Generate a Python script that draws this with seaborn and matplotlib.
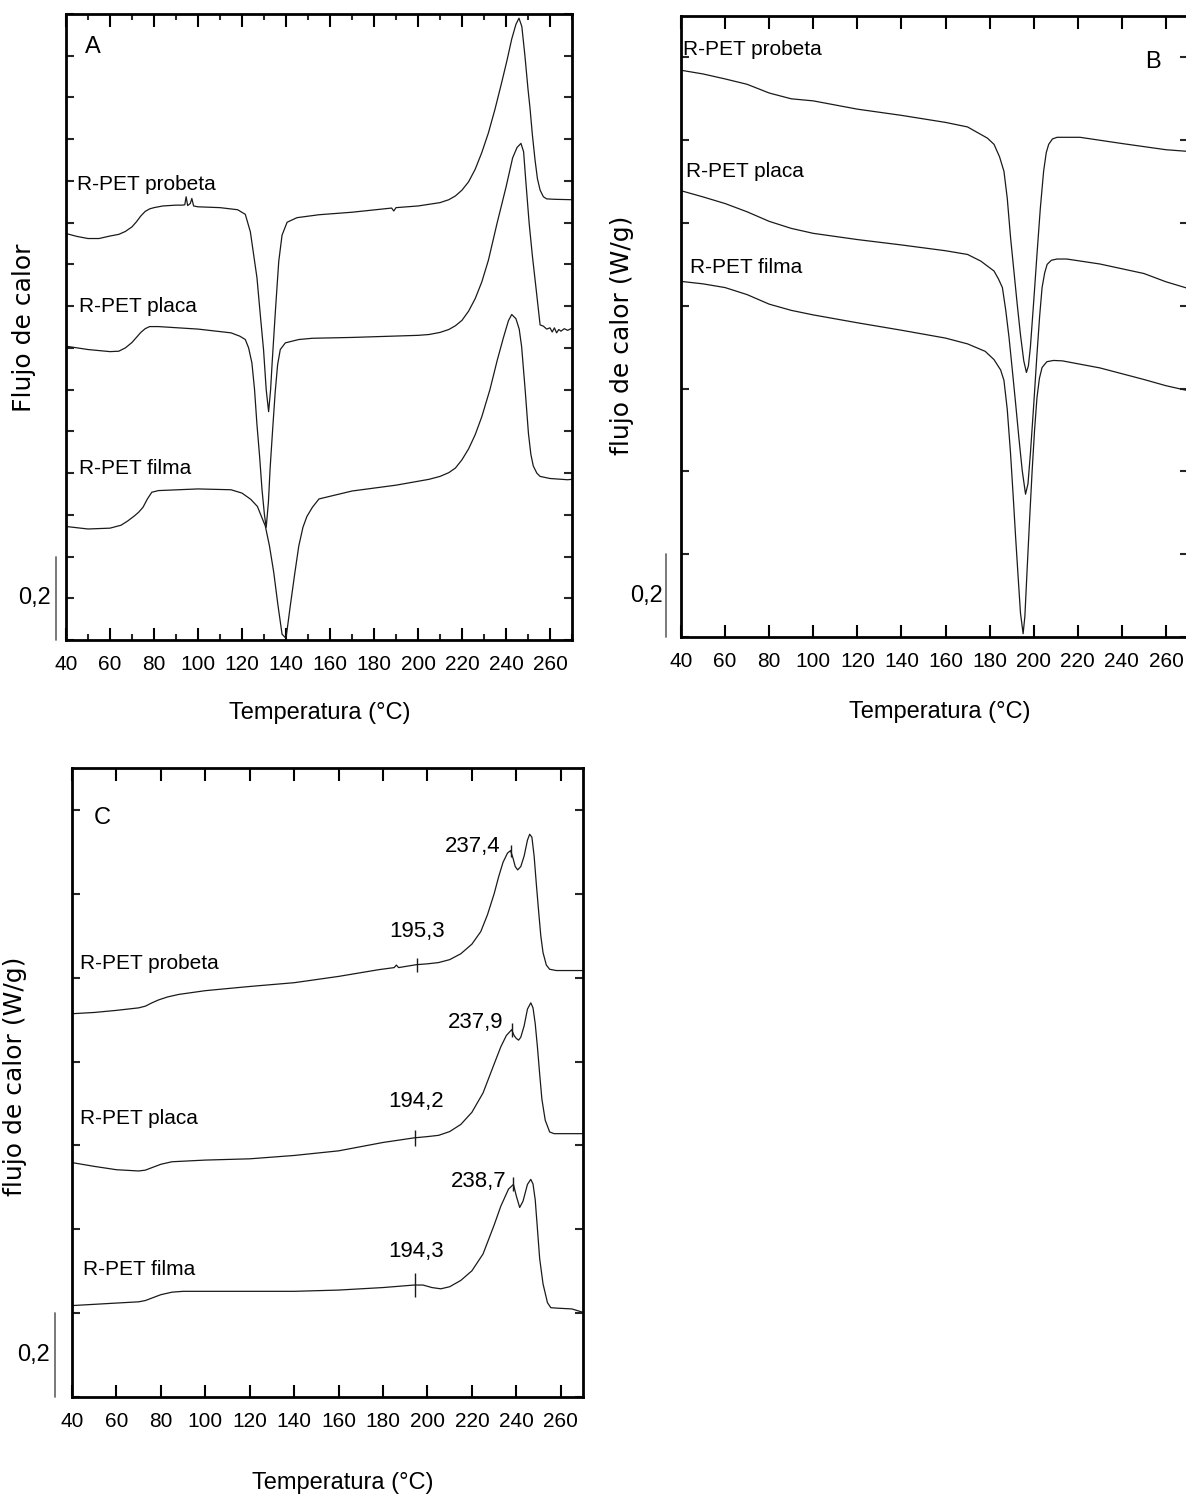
import numpy as np
import pandas as pd
import matplotlib
matplotlib.use("Agg")
import matplotlib.pyplot as plt
import matplotlib.transforms as mtransforms
from matplotlib.ticker import MultipleLocator, NullFormatter
import seaborn as sns

# ---------------- DATA ----------------
# Panel A (heating scan 1)
a_probeta_T = [40, 45, 50, 55, 60, 64, 67, 70, 72, 74, 76, 78, 80, 84, 90, 93, 94, 94.6, 95.3, 96.5,
               97.2, 98, 100, 110, 118, 121.5, 123.8, 125.3, 126.8, 128.3, 129.8, 131, 132.1, 133,
               133.7, 135.2, 136.7, 138.2, 140.5, 145, 155, 170, 188, 189, 190, 200, 205, 210, 214,
               217, 220, 223, 226, 229, 232, 235, 238, 240.5, 242.6, 244.5, 245.9, 247.2, 248.6,
               250, 250.9, 252, 253.2, 254.3, 255.5, 257, 258.5, 262, 270]
a_probeta_y = [0.974, 0.967, 0.962, 0.962, 0.968, 0.972, 0.979, 0.990, 1.002, 1.016, 1.027, 1.033,
               1.036, 1.040, 1.042, 1.042, 1.043, 1.062, 1.041, 1.046, 1.058, 1.040, 1.038, 1.036,
               1.031, 1.020, 0.978, 0.923, 0.868, 0.780, 0.695, 0.600, 0.547, 0.600, 0.664, 0.790,
               0.907, 0.970, 1.001, 1.012, 1.019, 1.025, 1.035, 1.028, 1.036, 1.040, 1.044, 1.048,
               1.055, 1.064, 1.078, 1.098, 1.128, 1.168, 1.215, 1.272, 1.335, 1.390, 1.440, 1.475,
               1.490, 1.470, 1.400, 1.320, 1.275, 1.210, 1.150, 1.105, 1.078, 1.062, 1.057, 1.056,
               1.055]

a_placa_T = [40, 50, 60, 64, 67, 70, 72, 74, 76, 78, 82, 100, 115, 119, 121.5, 123, 124.5, 125.7,
             126.8, 128, 129.1, 130.2, 131, 132, 132.8, 134, 135.1, 136.2, 137.4, 139.7, 145.8,
             152, 170, 200, 205, 210, 214, 217, 220, 223, 226, 229, 232, 236, 240, 243, 245,
             246.8, 248, 249, 250.5, 252, 253.5, 255.5, 257, 258.5, 260, 261, 262, 263, 264, 265,
             266.5, 268, 270]
a_placa_y = [0.704, 0.696, 0.691, 0.692, 0.700, 0.713, 0.725, 0.737, 0.746, 0.751, 0.751, 0.745,
             0.736, 0.728, 0.720, 0.700, 0.664, 0.600, 0.516, 0.440, 0.360, 0.300, 0.270, 0.330,
             0.413, 0.510, 0.595, 0.660, 0.696, 0.712, 0.720, 0.723, 0.725, 0.730, 0.732, 0.737,
             0.744, 0.753, 0.766, 0.788, 0.818, 0.858, 0.910, 1.000, 1.085, 1.155, 1.180, 1.190,
             1.170, 1.100, 1.000, 0.920, 0.850, 0.755, 0.752, 0.745, 0.748, 0.738, 0.748, 0.736,
             0.744, 0.740, 0.746, 0.742, 0.747]

a_filma_T = [40, 50, 60, 65, 68, 71, 73, 75, 77, 79, 82, 100, 115, 120, 124, 127, 130.6, 132.5,
             134.4, 136.3, 138.2, 140, 142, 144, 145.8, 147.7, 149.5, 152, 155, 170, 190, 205, 210,
             214, 217, 220, 223, 226, 229, 232.7, 236, 238.8, 241.1, 242.6, 244.5, 246, 247.1,
             248.7, 250.2, 251.3, 252.4, 254, 255.5, 260, 268, 270]
a_filma_y = [0.272, 0.266, 0.268, 0.275, 0.285, 0.297, 0.306, 0.318, 0.338, 0.354, 0.358, 0.362,
             0.360, 0.352, 0.337, 0.320, 0.273, 0.225, 0.163, 0.085, 0.014, 0.004, 0.084, 0.160,
             0.225, 0.270, 0.296, 0.318, 0.338, 0.357, 0.371, 0.385, 0.392, 0.401, 0.412, 0.432,
             0.458, 0.492, 0.535, 0.600, 0.670, 0.724, 0.765, 0.780, 0.770, 0.745, 0.703, 0.600,
             0.495, 0.445, 0.417, 0.400, 0.392, 0.387, 0.384, 0.385]

# Panel B (cooling scan)
b_probeta_T = [40, 50, 60, 70, 80, 90, 100, 120, 140, 160, 170, 176, 179, 182, 184.5, 186.5, 188,
               189.5, 191, 192.5, 194, 195.5, 196.7, 197.6, 198.5, 200, 201.5, 203, 204.5, 205.7,
               206.8, 208.5, 210.6, 221, 240, 260, 270]
b_probeta_y = [1.369, 1.360, 1.348, 1.335, 1.314, 1.300, 1.295, 1.275, 1.260, 1.243, 1.232, 1.214,
               1.205, 1.190, 1.160, 1.125, 1.060, 0.965, 0.885, 0.805, 0.730, 0.667, 0.639, 0.655,
               0.700, 0.810, 0.925, 1.035, 1.125, 1.170, 1.190, 1.203, 1.207, 1.207, 1.192, 1.177,
               1.173]

b_placa_T = [40, 50, 60, 70, 80, 90, 100, 120, 140, 160, 170, 176, 182, 184, 185.8, 187.3, 188.8,
             190.3, 191.8, 193.3, 194.8, 196.3, 197.4, 198.5, 200, 201.5, 202.7, 203.8, 205, 206.1,
             208, 210.6, 215, 230, 250, 260, 270]
b_placa_y = [1.078, 1.063, 1.047, 1.027, 1.004, 0.987, 0.975, 0.960, 0.947, 0.933, 0.924, 0.908,
             0.884, 0.865, 0.844, 0.790, 0.724, 0.645, 0.564, 0.480, 0.402, 0.345, 0.370, 0.443,
             0.560, 0.684, 0.775, 0.844, 0.880, 0.900, 0.910, 0.913, 0.913, 0.901, 0.878, 0.858,
             0.842]

b_filma_T = [40, 50, 60, 70, 80, 90, 100, 120, 140, 160, 170, 178, 182, 185, 186.5, 188, 189.5,
             190.7, 191.8, 193, 194, 195.2, 196, 197, 198.2, 199.3, 200.4, 201.5, 202.6, 203.8, 206,
             209, 213, 230, 250, 260, 270]
b_filma_y = [0.859, 0.853, 0.844, 0.827, 0.804, 0.789, 0.778, 0.759, 0.741, 0.722, 0.708, 0.690,
             0.670, 0.645, 0.620, 0.550, 0.443, 0.340, 0.241, 0.140, 0.058, 0.008, 0.050, 0.161,
             0.290, 0.402, 0.500, 0.579, 0.625, 0.651, 0.665, 0.668, 0.667, 0.650, 0.622, 0.607,
             0.595]

# Panel C (heating scan 2)
c_probeta_T = [40, 50, 60, 70, 73, 76, 79, 83, 88, 100, 120, 140, 160, 178, 185, 186, 187, 195,
               200, 205, 210, 215, 220, 224, 227, 230, 232, 234, 236, 237.4, 238.5, 239.5, 240.6,
               242, 243.5, 245, 246, 247, 248, 249, 250, 251, 252, 253.5, 255, 258, 270]
c_probeta_y = [0.914, 0.917, 0.922, 0.928, 0.932, 0.940, 0.947, 0.954, 0.960, 0.969, 0.979, 0.988,
               1.003, 1.019, 1.024, 1.030, 1.024, 1.031, 1.033, 1.036, 1.043, 1.057, 1.080, 1.110,
               1.150, 1.200, 1.240, 1.275, 1.297, 1.303, 1.285, 1.265, 1.257, 1.265, 1.290, 1.328,
               1.342, 1.335, 1.290, 1.223, 1.160, 1.100, 1.060, 1.030, 1.020, 1.017, 1.017]

c_placa_T = [40, 50, 60, 70, 73, 76, 80, 85, 100, 120, 140, 160, 180, 194, 200, 205, 210, 215, 220,
             225, 230, 233, 235.5, 237.9, 239, 240, 241, 242, 243.5, 245, 246.5, 247.5, 248.5,
             249.5, 250.5, 251.5, 253, 255, 257, 270]
c_placa_y = [0.559, 0.550, 0.542, 0.539, 0.541, 0.547, 0.555, 0.561, 0.565, 0.568, 0.576, 0.587,
             0.607, 0.618, 0.621, 0.624, 0.633, 0.650, 0.679, 0.725, 0.794, 0.835, 0.862, 0.876,
             0.862, 0.855, 0.851, 0.858, 0.885, 0.925, 0.940, 0.928, 0.890, 0.834, 0.770, 0.710,
             0.660, 0.632, 0.628, 0.628]

c_filma_T = [40, 50, 60, 70, 73, 76, 80, 85, 90, 140, 160, 180, 194, 198, 202, 206, 210, 215, 220,
             225, 230, 233, 236.5, 238.7, 240, 241.5, 243, 245, 246.5, 247.5, 248.5, 249.5, 250.5,
             252, 254, 255.5, 258, 265, 270]
c_filma_y = [0.218, 0.221, 0.224, 0.227, 0.230, 0.236, 0.244, 0.250, 0.252, 0.252, 0.255, 0.261,
             0.267, 0.267, 0.261, 0.258, 0.263, 0.278, 0.301, 0.341, 0.410, 0.455, 0.496, 0.507,
             0.479, 0.452, 0.467, 0.507, 0.519, 0.508, 0.470, 0.400, 0.330, 0.270, 0.225, 0.213,
             0.212, 0.210, 0.202]

series_names = ["R-PET probeta", "R-PET placa", "R-PET filma"]

# Annotated temperatures in panel C (series index, temperature)
c_mark_series = [0, 0, 1, 1, 2, 2]
c_mark_T = [195.3, 237.4, 194.2, 237.9, 194.3, 238.7]

x_ticks_labels = [40, 60, 80, 100, 120, 140, 160, 180, 200, 220, 240, 260]
SCALE_BAR = 0.2
SCALE_LABEL = "0,2"

# ---------------- STYLE ----------------
sns.set_theme(style="ticks")
NARROW = ["Liberation Sans Narrow", "Liberation Sans", "DejaVu Sans"]
plt.rcParams["font.family"] = NARROW
plt.rcParams["axes.linewidth"] = 2.0
plt.rcParams["axes.edgecolor"] = "black"

W, H = 1186, 1502
fig = plt.figure(figsize=(W / 100, H / 100), dpi=100)


def px_axes(left, top, right, bottom):
    return fig.add_axes([left / W, 1 - bottom / H, (right - left) / W, (bottom - top) / H])


axA = px_axes(66, 14, 572, 640)
axB = px_axes(681, 16, 1188, 637)
axC = px_axes(72, 768, 583, 1397)


def style_axes(ax, ystep, xminor):
    ax.set_xlim(40, 270)
    ax.set_ylim(0, 1.5)
    ax.xaxis.set_major_locator(MultipleLocator(20))
    if xminor:
        ax.xaxis.set_minor_locator(MultipleLocator(10))
    ax.yaxis.set_major_locator(MultipleLocator(ystep))
    ax.yaxis.set_major_formatter(NullFormatter())
    ax.set_xticks(x_ticks_labels)
    ax.set_xticklabels([str(v) for v in x_ticks_labels])
    ax.tick_params(axis="x", which="major", direction="in", length=9, width=1.5,
                   top=True, bottom=True, labelsize=15, pad=11, colors="black")
    ax.tick_params(axis="x", which="minor", direction="in", length=4.5, width=1.5,
                   top=True, bottom=True)
    ax.tick_params(axis="y", which="major", direction="in", length=5.5, width=1.5,
                   left=True, right=True)
    for s in ax.spines.values():
        s.set_visible(True)
        s.set_linewidth(2.0)
        s.set_color("black")
    ax.set_xlabel("")
    ax.set_ylabel("")
    ax.set_facecolor("white")


def draw_curves(ax, Ts, Ys):
    for T, Y, name in zip(Ts, Ys, series_names):
        df = pd.DataFrame({"Temperatura": T, "Flujo": Y})
        sns.lineplot(data=df, x="Temperatura", y="Flujo", ax=ax, color="#1a1a1a",
                     linewidth=0.9, estimator=None, sort=False, legend=False)


def scale_bar(ax, xfrac, label_xfrac):
    trans = mtransforms.blended_transform_factory(ax.transAxes, ax.transData)
    ax.plot([xfrac, xfrac], [0, SCALE_BAR], transform=trans, clip_on=False,
            color="#6e6e6e", lw=1.3)
    ax.text(label_xfrac, SCALE_BAR / 2, SCALE_LABEL, transform=trans, ha="center",
            va="center", fontsize=17, color="black")


# Panel A
draw_curves(axA, [a_probeta_T, a_placa_T, a_filma_T], [a_probeta_y, a_placa_y, a_filma_y])
style_axes(axA, 0.1, True)
scale_bar(axA, -0.02, -0.062)
for (tx, ty), name in zip([(45, 1.091), (45.9, 0.799), (45.9, 0.412)], series_names):
    axA.text(tx, ty, name, fontsize=15, ha="left", va="center", color="black")
axA.text(52.3, 1.42, "A", fontsize=17, ha="center", va="center", color="black")

# Panel B
draw_curves(axB, [b_probeta_T, b_placa_T, b_filma_T], [b_probeta_y, b_placa_y, b_filma_y])
style_axes(axB, 0.2, False)
scale_bar(axB, -0.03, -0.069)
for (tx, ty), name in zip([(40.9, 1.419), (42.3, 1.125), (44.1, 0.892)], series_names):
    axB.text(tx, ty, name, fontsize=15, ha="left", va="center", color="black", clip_on=False)
axB.text(254.1, 1.39, "B", fontsize=17, ha="center", va="center", color="black")

# Panel C
c_T = [c_probeta_T, c_placa_T, c_filma_T]
c_Y = [c_probeta_y, c_placa_y, c_filma_y]
draw_curves(axC, c_T, c_Y)
style_axes(axC, 0.2, False)
scale_bar(axC, -0.033, -0.076)
for (tx, ty), name in zip([(43.6, 1.033), (43.6, 0.663), (45.0, 0.304)], series_names):
    axC.text(tx, ty, name, fontsize=15, ha="left", va="center", color="black")
axC.text(53.5, 1.38, "C", fontsize=17, ha="center", va="center", color="black")

# annotations (marks + values) in panel C
mark_sizes = [10, 8, 11, 10, 17, 10]
text_offsets = [(0, 24), (-7, 3), (1, 26), (-6, 5), (1, 24), (-5, 2)]
text_ha = ["center", "right", "center", "right", "center", "right"]
for si, tm, ms, off, ha in zip(c_mark_series, c_mark_T, mark_sizes, text_offsets, text_ha):
    ym = float(np.interp(tm, c_T[si], c_Y[si]))
    axC.plot([tm], [ym], marker="|", markersize=ms, markeredgewidth=1.0, color="#1a1a1a")
    axC.annotate(f"{tm:.1f}".replace(".", ","), xy=(tm, ym), xytext=off,
                 textcoords="offset points", ha=ha, va="center", fontsize=16, color="black")

# axis titles
YFONT = ["DejaVu Sans"]
fig.text(24 / W, 1 - 328 / H, "Flujo de calor", rotation=90, ha="center", va="center",
         fontsize=18, family=YFONT, color="black")
fig.text(622 / W, 1 - 335 / H, "flujo de calor (W/g)", rotation=90, ha="center", va="center",
         fontsize=18, family=YFONT, color="black")
fig.text(15 / W, 1 - 1076 / H, "flujo de calor (W/g)", rotation=90, ha="center", va="center",
         fontsize=18, family=YFONT, color="black")
for cx, cy in [(319.5, 713), (940, 712), (343, 1483)]:
    fig.text(cx / W, 1 - cy / H, "Temperatura (°C)", ha="center", va="center", fontsize=17,
             color="black")

fig.savefig("out.png", dpi=100, facecolor="white")
